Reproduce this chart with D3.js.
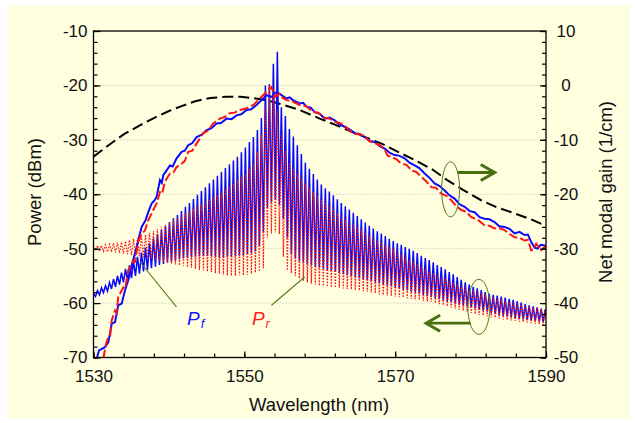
<!DOCTYPE html>
<html>
<head>
<meta charset="utf-8">
<script src="https://cdn.jsdelivr.net/npm/d3@7"></script>
<style>
  body { margin: 0; background: #fff; }
  svg { display: block; font-family: Arial, "Liberation Sans", sans-serif; }
</style>
</head>
<body>
<svg id="chart" width="635" height="423"></svg>
<script>
// ---- data ----
// net modal gain (right axis, 1/cm)
const gainWl  = [1530,1532,1534,1536.2,1538,1540,1541.5,1543.5,1545.5,1547.6,1549.5,1551,1552.9,1555,1557.3,1560,1562,1563.7,1566,1568.2,1570.5,1572.6,1575,1576.9,1579,1581.4,1583.5,1585.8,1588,1589.3,1590];
const gainVal = [-13.1,-11.0,-9.0,-7.3,-6.0,-4.7,-3.9,-2.9,-2.3,-2.1,-2.1,-2.3,-2.7,-3.5,-4.5,-6.1,-7.2,-8.2,-9.5,-10.7,-12.3,-13.7,-15.5,-17.4,-19.2,-21.1,-22.4,-23.5,-24.6,-25.4,-25.5];

// ASE spectra, forward (blue solid) and reverse (red dashed), dBm
const aseFWl = [1530.42,1530.73,1531.52,1531.96,1532.19,1532.41,1532.85,1533.28,1533.74,1534.17,1534.61,1535.06,1535.72,1536.38,1536.9,1537.26,1537.71,1538.05,1538.37,1538.81,1539.05,1539.25,1539.7,1540.13,1540.5,1541.02,1541.68,1542.1,1542.56,1543.1,1543.67,1544.3,1544.99,1545.6,1546.32,1546.9,1547.64,1548.3,1548.97,1549.6,1550.29,1550.9,1551.62,1552.28,1552.94,1553.6,1554.26,1554.93,1555.59,1556,1556.46,1557.35,1557.8,1558.24,1558.8,1559.34,1560,1560.66,1561.3,1561.99,1562.6,1563.31,1564,1564.64,1565.3,1565.96,1566.6,1567.28,1568,1568.61,1569.3,1569.93,1570.5,1571.26,1571.9,1572.58,1573.2,1573.91,1574.5,1575.23,1575.9,1576.56,1577.2,1577.88,1578.5,1579.21,1579.9,1580.53,1581.2,1581.85,1582.5,1583.18,1583.8,1584.5,1585.2,1585.83,1586.5,1587.15,1587.6,1588.04,1588.5,1588.91,1589.3,1589.8,1590];
const aseFDb = [-70.2,-68.7,-68.1,-67.2,-65.6,-63.8,-63.5,-60.4,-60.1,-57.7,-55.8,-53.1,-49.7,-46.0,-44.8,-43.3,-41.7,-41.2,-40.5,-37.4,-37.9,-36.5,-35.6,-34.7,-34.9,-33.4,-32.2,-32.0,-31.0,-30.6,-29.5,-29.1,-28.2,-27.9,-27.0,-26.9,-26.1,-26.2,-25.5,-25.3,-24.5,-24.4,-23.6,-22.7,-21.8,-22.1,-21.2,-21.8,-22.4,-22.2,-22.7,-23.3,-23.2,-23.9,-24.1,-24.9,-25.2,-26.1,-25.9,-26.4,-27.2,-27.6,-28.1,-28.8,-28.9,-29.5,-30.2,-30.4,-31.2,-31.6,-32.4,-32.8,-32.9,-33.4,-34.2,-34.7,-35.2,-36.2,-36.9,-38.0,-38.5,-39.3,-40.2,-40.8,-41.8,-42.3,-43.1,-43.3,-44.2,-44.5,-44.6,-45.1,-45.9,-46.0,-46.4,-47.2,-46.9,-47.5,-47.4,-48.8,-49.8,-50.0,-49.3,-49.4,-49.5];
const aseRWl = [1531.3,1531.66,1531.96,1532.2,1532.41,1532.85,1533.05,1533.28,1533.95,1534.2,1534.61,1535.27,1535.5,1535.93,1536.38,1536.8,1537.26,1537.92,1538.37,1538.81,1539.1,1539.47,1540.13,1540.6,1541.02,1541.68,1542.1,1542.56,1543.1,1543.67,1544.54,1545.2,1545.87,1546.75,1547.4,1548.08,1548.7,1549.4,1550.1,1550.73,1551.3,1551.83,1552.49,1553.15,1553.6,1554.04,1554.7,1555.1,1555.59,1556.46,1557.35,1558.2,1559.11,1559.8,1560.66,1561.3,1561.99,1562.6,1563.31,1564,1564.64,1565.3,1565.96,1566.6,1567.28,1568,1568.61,1569,1569.5,1570.2,1570.82,1571.5,1572.15,1572.8,1573.47,1574.1,1574.8,1575.4,1576.12,1576.8,1577.44,1578.1,1578.77,1579.4,1580.09,1580.9,1581.85,1582.5,1583.18,1583.8,1584.5,1585.2,1585.83,1586.5,1587.15,1587.6,1588.04,1588.4,1588.7,1589,1589.36,1589.8,1590];
const aseRDb = [-70.2,-67.5,-66.3,-66.0,-63.2,-61.4,-61.8,-58.9,-57.1,-57.3,-54.0,-52.2,-52.4,-48.8,-47.2,-46.7,-44.8,-42.9,-41.7,-39.6,-39.9,-37.7,-36.2,-36.0,-35.0,-34.4,-33.9,-32.2,-32.0,-30.7,-28.8,-28.3,-27.0,-26.1,-25.8,-25.1,-25.0,-24.5,-24.3,-23.9,-23.5,-22.7,-21.8,-20.9,-20.3,-22.1,-21.5,-22.3,-22.7,-23.0,-23.6,-23.8,-24.9,-25.0,-26.0,-26.1,-26.7,-26.9,-27.4,-28.4,-28.9,-29.0,-29.3,-30.3,-30.6,-31.0,-31.8,-32.9,-33.1,-33.6,-34.4,-34.6,-35.6,-35.9,-36.8,-37.6,-38.7,-38.8,-39.9,-40.3,-41.1,-42.2,-42.9,-43.2,-44.2,-44.6,-45.7,-45.8,-46.3,-46.2,-46.6,-47.3,-47.9,-48.0,-48.5,-48.4,-50.3,-50.1,-49.1,-49.6,-50.3,-49.7,-49.9];

// Fabry-Perot fringe comb: one peak and one trough per cavity mode (dBm)
const combStart = 1530;   // first mode, nm
const combStep = 0.53;    // mode spacing, nm
const pfTop = [-58.2,-57.7,-57.2,-56.8,-56.2,-55.6,-55.0,-54.4,-53.7,-53.0,
  -52.3,-51.5,-50.7,-49.8,-49.0,-48.1,-47.3,-46.5,-45.8,-45.1,
  -44.4,-43.8,-43.1,-42.3,-41.6,-40.9,-40.1,-39.4,-38.7,-38.0,
  -37.3,-36.6,-35.9,-35.2,-34.5,-33.8,-33.1,-32.3,-31.4,-30.4,
  -29.5,-28.2,-26.0,-20.0,-19.8,-16.0,-13.8,-24.0,-25.6,-28.0,
  -29.4,-31.0,-32.6,-34.2,-35.3,-36.3,-37.3,-38.2,-38.9,-39.5,
  -40.2,-40.9,-41.6,-42.2,-42.8,-43.4,-44.0,-44.6,-45.2,-45.8,
  -46.3,-46.8,-47.2,-47.7,-48.2,-48.6,-49.0,-49.3,-49.7,-50.0,
  -50.4,-50.8,-51.3,-51.7,-52.1,-52.5,-53.0,-53.4,-53.8,-54.3,
  -54.7,-55.2,-55.7,-56.2,-56.6,-57.0,-57.3,-57.6,-58.0,-58.3,
  -58.5,-58.6,-58.8,-59.0,-59.2,-59.4,-59.7,-59.9,-60.2,-60.4,
  -60.6,-60.8,-61.0,-61.2];
const pfBot = [-58.8,-58.5,-58.1,-57.8,-57.4,-57.0,-56.6,-56.2,-55.8,-55.4,
  -55.0,-54.6,-54.2,-53.9,-53.6,-53.3,-53.0,-52.8,-52.6,-52.4,
  -52.2,-52.0,-51.8,-51.7,-51.6,-51.5,-51.4,-51.3,-51.3,-51.4,
  -51.5,-51.6,-51.6,-51.5,-51.5,-51.4,-51.3,-51.2,-51.0,-50.8,
  -50.5,-49.5,-47.0,-42.5,-41.5,-41.0,-42.0,-44.5,-48.0,-51.0,
  -51.8,-52.3,-52.6,-52.9,-53.1,-53.3,-53.5,-53.7,-53.9,-54.1,
  -54.3,-54.5,-54.7,-54.9,-55.1,-55.3,-55.5,-55.6,-55.8,-56.0,
  -56.2,-56.4,-56.6,-56.8,-56.9,-57.1,-57.3,-57.5,-57.7,-57.9,
  -58.1,-58.3,-58.5,-58.7,-58.9,-59.1,-59.3,-59.5,-59.7,-59.9,
  -60.1,-60.3,-60.5,-60.6,-60.8,-61.0,-61.2,-61.4,-61.6,-61.8,
  -62.0,-62.2,-62.3,-62.5,-62.6,-62.8,-62.9,-63.0,-63.1,-63.2,
  -63.3,-63.4,-63.5,-63.6];
const prTop = [-49.5,-49.4,-49.4,-49.3,-49.2,-49.0,-48.9,-48.8,-48.6,-48.4,
  -48.2,-48.0,-47.7,-47.4,-47.1,-46.8,-46.4,-46.0,-45.6,-45.3,
  -44.8,-44.3,-43.9,-43.5,-43.1,-42.7,-42.2,-41.8,-41.3,-40.9,
  -40.5,-40.1,-39.7,-39.1,-38.6,-38.0,-37.4,-36.8,-36.3,-35.3,
  -34.3,-32.3,-29.0,-24.0,-20.0,-21.5,-24.5,-29.0,-32.0,-34.2,
  -35.3,-36.3,-37.2,-38.0,-38.8,-39.6,-40.3,-40.9,-41.5,-42.2,
  -42.8,-43.5,-44.1,-44.7,-45.2,-45.6,-46.1,-46.6,-47.1,-47.6,
  -48.1,-48.5,-48.9,-49.3,-49.7,-50.1,-50.6,-51.1,-51.5,-52.0,
  -52.4,-52.8,-53.3,-53.7,-54.2,-54.5,-54.8,-55.2,-55.5,-55.9,
  -56.2,-56.5,-56.8,-57.1,-57.4,-57.6,-57.9,-58.2,-58.4,-58.7,
  -58.9,-59.1,-59.3,-59.6,-59.8,-59.9,-60.1,-60.3,-60.4,-60.6,
  -60.8,-60.9,-61.1,-61.2];
const prBot = [-50.4,-50.5,-50.5,-50.6,-50.6,-50.7,-50.8,-50.9,-51.0,-51.2,
  -51.3,-51.4,-51.6,-51.7,-51.9,-52.1,-52.3,-52.4,-52.6,-52.8,
  -52.9,-53.1,-53.2,-53.4,-53.5,-53.7,-53.9,-54.0,-54.2,-54.3,
  -54.5,-54.6,-54.8,-54.9,-55.0,-55.0,-54.9,-54.9,-54.8,-54.6,
  -54.4,-54.2,-53.6,-48.0,-47.2,-47.0,-47.3,-51.5,-54.0,-54.5,
  -55.0,-55.5,-55.9,-56.2,-56.4,-56.6,-56.8,-56.9,-57.0,-57.1,
  -57.2,-57.2,-57.3,-57.4,-57.5,-57.6,-57.7,-57.8,-57.9,-58.1,
  -58.2,-58.4,-58.5,-58.6,-58.7,-58.8,-58.9,-59.0,-59.1,-59.2,
  -59.3,-59.4,-59.6,-59.7,-59.8,-60.0,-60.2,-60.4,-60.6,-60.8,
  -61.0,-61.2,-61.4,-61.6,-61.8,-62.0,-62.2,-62.3,-62.4,-62.6,
  -62.7,-62.8,-63.0,-63.1,-63.2,-63.3,-63.4,-63.5,-63.6,-63.7,
  -63.8,-63.9,-64.0,-64.1];

// axis ticks
const xMajor = [1530, 1550, 1570, 1590];
const yMajor = [-70, -60, -50, -40, -30, -20, -10];
const y2Major = [-50, -40, -30, -20, -10, 0, 10];

// ---- chart ----
const svg = d3.select("#chart");
const L = 93.5, R = 546, T = 31, B = 357.5;

svg.append("rect").attr("x", 7).attr("y", 5).attr("width", 623).attr("height", 413)
  .attr("fill", "#ffffe0");

const x = d3.scaleLinear().domain([1530, 1590]).range([L, R]);
const y = d3.scaleLinear().domain([-70, -10]).range([B, T]);
const y2 = d3.scaleLinear().domain([-50, 10]).range([B, T]);

svg.append("clipPath").attr("id", "plot").append("rect")
  .attr("x", L).attr("y", T).attr("width", R - L).attr("height", B - T);

// dotted grid
svg.append("g").selectAll("line").data(yMajor.slice(1, -1)).join("line")
  .attr("x1", L).attr("x2", R).attr("y1", d => y(d)).attr("y2", d => y(d))
  .attr("stroke", "#b8b8b8").attr("stroke-width", 1).attr("stroke-dasharray", "1,2");

const plot = svg.append("g").attr("clip-path", "url(#plot)");

// gain curve
const gainLine = d3.line().x(d => x(d[0])).y(d => y2(d[1]));
plot.append("path").datum(d3.zip(gainWl, gainVal))
  .attr("d", gainLine).attr("fill", "none").attr("stroke", "#000")
  .attr("stroke-width", 2).attr("stroke-dasharray", "11,5");

// fringe combs
function combPoints(top, bot) {
  const pts = [];
  top.forEach((t, i) => {
    const wl = combStart + i * combStep;
    pts.push([wl, t], [wl + combStep / 2, bot[i]]);
  });
  return pts;
}
const dbLine = d3.line().x(d => x(d[0])).y(d => y(d[1]));
plot.append("path").datum(combPoints(pfTop, pfBot))
  .attr("d", dbLine).attr("fill", "none").attr("stroke", "#0808ff")
  .attr("stroke-width", 1.5);
plot.append("path").datum(combPoints(prTop, prBot))
  .attr("d", dbLine).attr("fill", "none").attr("stroke", "#ff1010")
  .attr("stroke-width", 1.2).attr("stroke-dasharray", "1.5,1.5");

// ASE lines
plot.append("path").datum(d3.zip(aseFWl, aseFDb))
  .attr("d", dbLine).attr("fill", "none").attr("stroke", "#0a0aff").attr("stroke-width", 2);
plot.append("path").datum(d3.zip(aseRWl, aseRDb))
  .attr("d", dbLine).attr("fill", "none").attr("stroke", "#ff1414")
  .attr("stroke-width", 2).attr("stroke-dasharray", "9,3");

// axes
const fs = 17;
function styleAxis(g) {
  g.select(".domain").remove();
  g.selectAll("line").attr("stroke", "#000").attr("stroke-width", 1.2);
  g.selectAll("text").attr("font-size", fs).attr("fill", "#111")
    .attr("font-family", "Arial, 'Liberation Sans', sans-serif");
}
svg.append("g").attr("transform", `translate(0,${B})`)
  .call(d3.axisBottom(x).tickValues(d3.range(1530, 1591, 4)).tickSize(-4).tickFormat(""))
  .call(styleAxis);
svg.append("g").attr("transform", `translate(0,${B})`)
  .call(d3.axisBottom(x).tickValues(xMajor).tickSize(-6).tickPadding(12).tickFormat(d3.format("d")))
  .call(styleAxis);

svg.append("g").attr("transform", `translate(${L},0)`)
  .call(d3.axisLeft(y).tickValues(d3.range(-70, -9, 2)).tickSize(-4).tickFormat(""))
  .call(styleAxis);
svg.append("g").attr("transform", `translate(${L},0)`)
  .call(d3.axisLeft(y).tickValues(yMajor).tickSize(-7).tickPadding(6).tickFormat(d => d))
  .call(styleAxis);

svg.append("g").attr("transform", `translate(${R},0)`)
  .call(d3.axisRight(y2).tickValues(d3.range(-50, 11, 2)).tickSize(-4).tickFormat(""))
  .call(styleAxis);
svg.append("g").attr("transform", `translate(${R},0)`)
  .call(d3.axisRight(y2).tickValues(y2Major).tickSize(-6).tickFormat(d => d))
  .call(styleAxis)
  .call(g => g.selectAll("text").attr("x", 20).attr("text-anchor", "middle"));

// frame
svg.append("rect").attr("x", L).attr("y", T).attr("width", R - L).attr("height", B - T)
  .attr("fill", "none").attr("stroke", "#000").attr("stroke-width", 1.3);

// titles
const tfs = 18.5;
svg.append("text").attr("x", 319).attr("y", 411).attr("text-anchor", "middle")
  .attr("font-size", tfs).attr("fill", "#111").text("Wavelength (nm)");
svg.append("text").attr("transform", "translate(40.5,192) rotate(-90)").attr("text-anchor", "middle")
  .attr("font-size", tfs).attr("fill", "#111").text("Power (dBm)");
svg.append("text").attr("transform", "translate(611.5,192) rotate(-90)").attr("text-anchor", "middle")
  .attr("font-size", tfs).attr("fill", "#111").text("Net modal gain (1/cm)");

// annotations (data coordinates)
const green = "#4f7d1c", darkGreen = "#487010";
const ellipses = [
  { wl: 1577.35, db: -39.1, rwl: 1.19, rdb: 5.06 },
  { wl: 1581.1, db: -60.7, rwl: 1.46, rdb: 5.06 }
];
svg.selectAll(".ell").data(ellipses).join("ellipse")
  .attr("cx", d => x(d.wl)).attr("cy", d => y(d.db))
  .attr("rx", d => x(d.wl + d.rwl) - x(d.wl)).attr("ry", d => y(d.db - d.rdb) - y(d.db))
  .attr("fill", "none").attr("stroke", green).attr("stroke-width", 1);

const arrows = [
  { from: [1578.3, -36.0], to: [1583.2, -36.0] },
  { from: [1580.0, -63.7], to: [1574.1, -63.7] }
];
arrows.forEach(a => {
  const x1 = x(a.from[0]), y1 = y(a.from[1]), x2 = x(a.to[0]), y2p = y(a.to[1]);
  const dir = Math.sign(x2 - x1);
  svg.append("line").attr("x1", x1).attr("y1", y1).attr("x2", x2 - dir * 1.5).attr("y2", y2p)
    .attr("stroke", darkGreen).attr("stroke-width", 2.8);
  svg.append("polyline")
    .attr("points", [[x2 - dir * 14, y2p - 8], [x2, y2p], [x2 - dir * 14, y2p + 8]].join(" "))
    .attr("fill", "none").attr("stroke", darkGreen).attr("stroke-width", 3)
    .attr("stroke-linejoin", "miter");
});

const leaders = [
  [[1536.2, -52.5], [1541.0, -60.7]],
  [[1553.6, -60.4], [1558.0, -55.2]]
];
svg.selectAll(".lead").data(leaders).join("line")
  .attr("x1", d => x(d[0][0])).attr("y1", d => y(d[0][1]))
  .attr("x2", d => x(d[1][0])).attr("y2", d => y(d[1][1]))
  .attr("stroke", green).attr("stroke-width", 1.1);

const labels = [
  { wl: 1542.4, db: -64.1, sub: "f", color: "#1414ff" },
  { wl: 1551.0, db: -64.1, sub: "r", color: "#ff1a1a" }
];
labels.forEach(l => {
  const t = svg.append("text").attr("x", x(l.wl)).attr("y", y(l.db))
    .attr("font-style", "italic").attr("fill", l.color).attr("font-size", 19);
  t.append("tspan").text("P");
  t.append("tspan").attr("font-size", 13).attr("dy", 3).attr("dx", 1).text(l.sub);
});
</script>
</body>
</html>
